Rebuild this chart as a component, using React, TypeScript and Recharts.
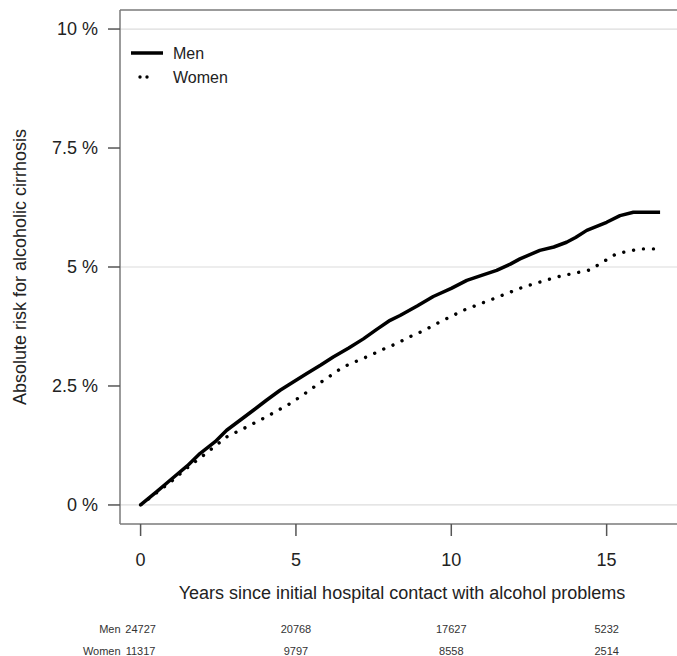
import React from 'react'
import { LineChart, Line, XAxis, YAxis, ReferenceLine } from 'recharts'

const font = '"Liberation Sans", Arial, Helvetica, sans-serif'

// cumulative risk (%), by years since first contact
const menYears = [0, 0.5, 0.95, 1.5, 1.91, 2.4, 2.77, 3.2, 3.63, 4.05, 4.49, 4.9, 5.35, 5.8, 6.2, 6.7, 7.17, 7.6, 8.03, 8.35, 8.9, 9.42, 10.0, 10.5, 11.0, 11.46, 11.9, 12.21, 12.85, 13.3, 13.71, 14.0, 14.36, 15.0, 15.43, 15.86, 16.72]
const menRisk = [0, 0.27, 0.52, 0.82, 1.08, 1.33, 1.57, 1.78, 1.99, 2.2, 2.41, 2.58, 2.76, 2.94, 3.11, 3.3, 3.49, 3.69, 3.88, 3.98, 4.18, 4.38, 4.55, 4.72, 4.83, 4.93, 5.06, 5.17, 5.35, 5.42, 5.52, 5.62, 5.77, 5.94, 6.08, 6.15, 6.15]

const womenYears = [0, 0.5, 1.0, 1.5, 2.0, 2.4, 2.77, 3.3, 3.95, 4.4, 4.81, 5.2, 5.67, 6.1, 6.52, 6.95, 7.38, 7.8, 8.24, 8.62, 9.1, 9.53, 10.39, 11.35, 12.32, 13.39, 14.47, 14.79, 15.32, 16.07, 16.56]
const womenRisk = [0, 0.25, 0.5, 0.78, 1.03, 1.24, 1.43, 1.6, 1.82, 1.98, 2.13, 2.3, 2.52, 2.71, 2.9, 3.02, 3.14, 3.27, 3.39, 3.52, 3.66, 3.81, 4.09, 4.33, 4.58, 4.79, 4.94, 5.07, 5.28, 5.38, 5.38]

const xTicks = [0, 5, 10, 15]
const yTicks = [0, 2.5, 5, 7.5, 10]
const gridLines = [0, 5, 10]

// numbers at risk under each x tick
const menAtRisk = [24727, 20768, 17627, 5232]
const womenAtRisk = [11317, 9797, 8558, 2514]

const menData = menYears.map((t, i) => ({ t, risk: menRisk[i] }))
const womenData = womenYears.map((t, i) => ({ t, risk: womenRisk[i] }))

function XTick(props: any) {
    const { x, payload } = props
    const i = xTicks.indexOf(payload.value)
    return (
        <g fontFamily={font}>
            <text x={x} y={566} textAnchor="middle" fontSize={18} fill="#222">{payload.value}</text>
            <text x={x} y={633} textAnchor="middle" fontSize={11} fill="#333">{menAtRisk[i]}</text>
            <text x={x} y={655} textAnchor="middle" fontSize={11} fill="#333">{womenAtRisk[i]}</text>
            {i === 0 && (
                <>
                    <text x={x - 20} y={633} textAnchor="end" fontSize={11} fill="#333">Men</text>
                    <text x={x - 20} y={655} textAnchor="end" fontSize={11} fill="#333">Women</text>
                </>
            )}
        </g>
    )
}

function XTitle(props: any) {
    const { viewBox } = props
    return (
        <text x={viewBox.x + viewBox.width / 2} y={599} textAnchor="middle" fontSize={18} fill="#222" fontFamily={font}>
            Years since initial hospital contact with alcohol problems
        </text>
    )
}

function YTitle(props: any) {
    const { viewBox } = props
    const cy = viewBox.y + viewBox.height / 2
    return (
        <text x={26} y={cy} transform={`rotate(-90 26 ${cy})`} textAnchor="middle" fontSize={18} fill="#222" fontFamily={font}>
            Absolute risk for alcoholic cirrhosis
        </text>
    )
}

function LegendBox() {
    return (
        <svg width={120} height={50} style={{ position: 'absolute', left: 125, top: 38 }}>
            <line x1={6} y1={15} x2={38} y2={15} stroke="#000" strokeWidth={3.5} />
            <text x={48} y={21} fontSize={16} fill="#222" fontFamily={font}>Men</text>
            <circle cx={15} cy={39} r={1.7} fill="#000" />
            <circle cx={22} cy={39} r={1.7} fill="#000" />
            <text x={48} y={45} fontSize={16} fill="#222" fontFamily={font}>Women</text>
        </svg>
    )
}

export default function App() {
    return (
        <div style={{ position: 'absolute', left: 0, top: 0, width: 677, height: 656, overflow: 'hidden', background: '#fff' }}>
            <LineChart width={700} height={656} margin={{ top: 10, right: 16, bottom: 0, left: 0 }} style={{ fontFamily: font }}>
                {gridLines.map(v => (
                    <ReferenceLine key={v} y={v} stroke="#dcdcdc" strokeWidth={1.2} />
                ))}
                <ReferenceLine y={10.4} stroke="#7a7a7a" strokeWidth={1.5} />
                <XAxis
                    type="number"
                    dataKey="t"
                    domain={[-0.663, 17.49]}
                    allowDataOverflow
                    ticks={xTicks}
                    tick={<XTick />}
                    tickSize={12}
                    height={132}
                    axisLine={{ stroke: '#7a7a7a', strokeWidth: 1.5 }}
                    tickLine={{ stroke: '#555', strokeWidth: 1.5 }}
                    label={<XTitle />}
                />
                <YAxis
                    type="number"
                    dataKey="risk"
                    domain={[-0.4, 10.4]}
                    allowDataOverflow
                    ticks={yTicks}
                    tickFormatter={(v: number) => `${v} %`}
                    width={120}
                    tickSize={12}
                    tickMargin={10}
                    tick={{ fontSize: 18, fill: '#222', fontFamily: font }}
                    axisLine={{ stroke: '#7a7a7a', strokeWidth: 1.5 }}
                    tickLine={{ stroke: '#555', strokeWidth: 1.5 }}
                    label={<YTitle />}
                />
                <Line
                    data={womenData}
                    dataKey="risk"
                    type="linear"
                    stroke="#000"
                    strokeWidth={3.4}
                    strokeDasharray="0.01 10"
                    strokeLinecap="round"
                    dot={false}
                    activeDot={false}
                    isAnimationActive={false}
                />
                <Line
                    data={menData}
                    dataKey="risk"
                    type="linear"
                    stroke="#000"
                    strokeWidth={3.5}
                    strokeLinejoin="round"
                    dot={false}
                    activeDot={false}
                    isAnimationActive={false}
                />
            </LineChart>
            <LegendBox />
        </div>
    )
}
